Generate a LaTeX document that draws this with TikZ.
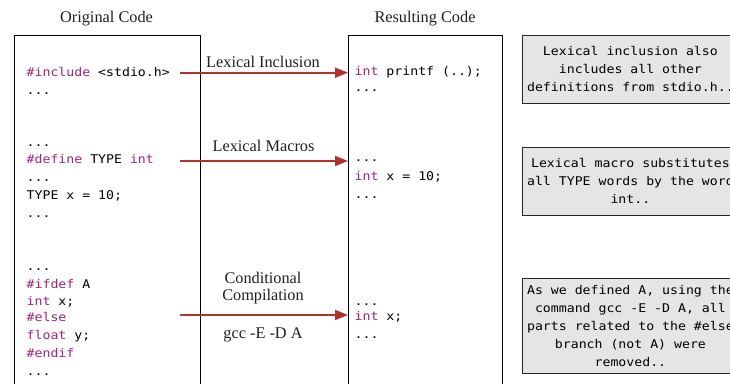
\documentclass[tikz,border=0pt]{standalone}
\usepackage{fontspec}
\usetikzlibrary{arrows.meta}
\newfontfamily\codefont[FakeStretch=1.1]{DejaVu Sans Mono}
\newfontfamily\labelfont{Liberation Serif}
\definecolor{kwc}{RGB}{160,35,120}
\definecolor{arrc}{RGB}{178,50,45}
\definecolor{notefill}{RGB}{229,229,229}
\newcommand\kw[1]{\textcolor{kwc}{#1}}
\begin{document}
\begin{tikzpicture}[x=1pt,y=-1pt,
 codeline/.style={font=\codefont\fontsize{12}{14}\selectfont, anchor=base west, inner sep=0pt},
 lbl/.style={font=\labelfont\fontsize{16.3}{18}\selectfont, anchor=base, inner sep=0pt, text=black!88},
 codebox/.style={draw=black, line width=0.8pt, anchor=north west, inner sep=0pt},
 note/.style={draw=black!85, fill=notefill, line width=0.8pt, align=center, font=\codefont\fontsize{12}{18}\selectfont, minimum width=216.6pt, inner sep=0pt, anchor=north west},
 flow/.style={draw=arrc, line width=1.8pt, -{Triangle[length=13pt,width=10pt]}}]
\useasboundingbox (0,0) rectangle (730,383);
\clip (0,0) rectangle (730,383);
% boxes
\node[codebox, minimum width=185.5pt, minimum height=360pt] (orig) at (14,34.5) {};
\node[codebox, minimum width=154pt, minimum height=360pt] (res) at (348,35) {};
% titles
\node[lbl] (t1) at (106.5,22.3) {Original Code};
\node[lbl] (t2) at (425,22.3) {Resulting Code};
% original code
\node[codeline] (o1) at (26.5,76) {\kw{\#include} <stdio.h>};
\node[codeline] (o2) at (26.5,94.3) {...};
\node[codeline] (o3) at (26.5,146.7) {...};
\node[codeline] (o4) at (26.5,163.5) {\kw{\#define} TYPE \kw{int}};
\node[codeline] (o5) at (26.5,181.5) {...};
\node[codeline] (o6) at (26.5,199.3) {TYPE x = 10;};
\node[codeline] (o7) at (26.5,217.3) {...};
\node[codeline] (o8) at (26.5,270.7) {...};
\node[codeline] (o9) at (26.5,288.3) {\kw{\#ifdef} A};
\node[codeline] (o10) at (26.5,305) {\kw{int} x;};
\node[codeline] (o11) at (26.5,321.7) {\kw{\#else}};
\node[codeline] (o12) at (26.5,339.3) {\kw{float} y;};
\node[codeline] (o13) at (26.5,357.3) {\kw{\#endif}};
\node[codeline] (o14) at (26.5,375) {...};
% resulting code
\node[codeline] (r1) at (354.5,75) {\kw{int} printf (..);};
\node[codeline] (r2) at (354.5,91.7) {...};
\node[codeline] (r3) at (354.5,161.7) {...};
\node[codeline] (r4) at (354.5,180) {\kw{int} x = 10;};
\node[codeline] (r5) at (354.5,198) {...};
\node[codeline] (r6) at (354.5,305) {...};
\node[codeline] (r7) at (354.5,320.7) {\kw{int} x;};
\node[codeline] (r8) at (354.5,338.3) {...};
% labels
\node[lbl] (l1) at (263,67.3) {Lexical Inclusion};
\node[lbl] (l2) at (263.5,151.7) {Lexical Macros};
\node[lbl] (l3) at (263,283.3) {Conditional};
\node[lbl] (l4) at (263,300.7) {Compilation};
\node[lbl] (l5) at (263,338.3) {gcc -E -D A};
% arrows
\coordinate (s1) at (180,72.7);
\coordinate (s2) at (180,161);
\coordinate (s3) at (180,315);
\draw[flow] (s1) -- (s1 -| res.west);
\draw[flow] (s2) -- (s2 -| res.west);
\draw[flow] (s3) -- (s3 -| res.west);
% notes
\node[note, minimum height=67.7pt] (n1) at (521.7,35) {Lexical inclusion also\\includes all other\\definitions from stdio.h..};
\node[note, minimum height=68.3pt] (n2) at (521.7,146.7) {Lexical macro substitutes\\all TYPE words by the word\\int..};
\node[note, minimum height=95.6pt] (n3) at (521.7,277.7) {As we defined A, using the\\command gcc -E -D A, all\\parts related to the \#else\\branch (not A) were\\removed..};
\end{tikzpicture}
\end{document}
